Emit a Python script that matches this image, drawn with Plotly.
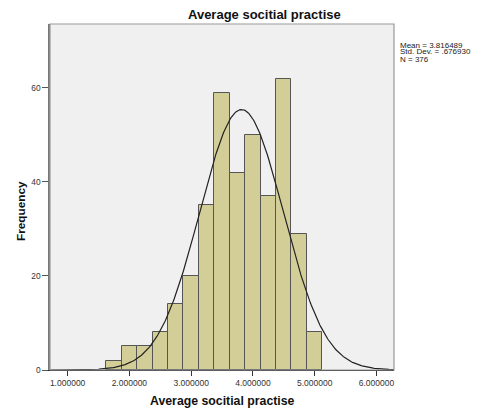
import numpy as np
import plotly.graph_objects as go

# Histogram data (bins of width 0.25 starting at 1.625)
bin_start = 1.625
bin_width = 0.25
counts = [2, 5, 5, 8, 14, 20, 35, 59, 42, 50, 37, 62, 29, 8]

mean = 3.816489
sd = 0.676930
n = 376

x_ticks = [1, 2, 3, 4, 5, 6]
x_tick_labels = ["1.000000", "2.000000", "3.000000", "4.000000", "5.000000", "6.000000"]
y_ticks = [0, 20, 40, 60]
stats_lines = ["Mean = 3.816489", "Std. Dev. = .676930", "N = 376"]

centers = [bin_start + bin_width * (i + 0.5) for i in range(len(counts))]

x_range = [0.715, 6.285]
y_range = [0, 73.6]

xs = np.linspace(x_range[0], x_range[1], 400)
ys = n * bin_width / (sd * np.sqrt(2 * np.pi)) * np.exp(-0.5 * ((xs - mean) / sd) ** 2)

# page body has an 8px margin: figure sized to fit the 483x411 window
OFF = 8
W, H = 483 - OFF, 411 - OFF
L, R, T, B = 50 - OFF, 483 - 394, 24 - OFF, 411 - 370
pw, ph = W - L - R, H - T - B

def px(x):  # screen pixel x -> paper
    return (x - OFF - L) / pw

def py(y):  # screen pixel y -> paper
    return (H - B - (y - OFF)) / ph

fig = go.Figure()
fig.add_trace(go.Bar(
    x=centers, y=counts, width=bin_width,
    marker=dict(color="#D3CE97", line=dict(color="#555555", width=1)),
    hoverinfo="skip",
))
fig.add_trace(go.Scatter(
    x=xs, y=ys, mode="lines",
    line=dict(color="#222222", width=1.2),
    hoverinfo="skip",
))

font = "Liberation Sans, Arial, sans-serif"
narrow = "Liberation Sans Narrow, Arial Narrow, Liberation Sans, sans-serif"

annotations = [
    dict(xref="paper", yref="paper", x=px(264), y=py(14.5), xanchor="center", yanchor="middle",
         showarrow=False, text="<b>Average socitial practise</b>", borderpad=0,
         font=dict(family=font, size=13, color="#111111")),
    dict(xref="paper", yref="paper", x=px(222), y=py(401), xanchor="center", yanchor="middle",
         showarrow=False, text="<b>Average socitial practise</b>",
         font=dict(family=font, size=12.3, color="#111111")),
    dict(xref="paper", yref="paper", x=px(21), y=py(211), xanchor="center", yanchor="middle",
         showarrow=False, text="<b>Frequency</b>", textangle=-90,
         font=dict(family=font, size=11.8, color="#111111")),
]
for i, line in enumerate(stats_lines):
    annotations.append(dict(
        xref="paper", yref="paper", x=px(399), y=py(45 + 7 * i),
        xanchor="left", yanchor="middle", showarrow=False, text=line, borderpad=0,
        font=dict(family=font, size=8, color="#222222")))

fig.update_layout(
    width=W, height=H,
    margin=dict(l=L, r=R, t=T, b=B),
    paper_bgcolor="white",
    plot_bgcolor="#F0F0F0",
    showlegend=False,
    bargap=0,
    font=dict(family=font, size=9, color="#333333"),
    xaxis=dict(
        range=x_range, tickmode="array", tickvals=x_ticks, ticktext=x_tick_labels,
        ticks="outside", ticklen=5, tickcolor="#333333", showgrid=False, zeroline=False,
        showline=True, linecolor="#222222", linewidth=1.2, mirror=False, automargin=False,
        tickfont=dict(family=narrow, size=8.5, color="#333333"),
    ),
    yaxis=dict(
        range=y_range, tickmode="array", tickvals=y_ticks,
        ticks="outside", ticklen=6, tickcolor="#555555", showgrid=False, zeroline=False,
        showline=True, linecolor="#777777", linewidth=1.5, automargin=False,
        tickfont=dict(family=font, size=8.4, color="#333333"),
    ),
    shapes=[dict(type="rect", xref="paper", yref="paper", x0=0, x1=1, y0=0, y1=1,
                 line=dict(color="#999999", width=1.2), fillcolor="rgba(0,0,0,0)", layer="above")],
    annotations=annotations,
)

fig.write_html("out.html")
